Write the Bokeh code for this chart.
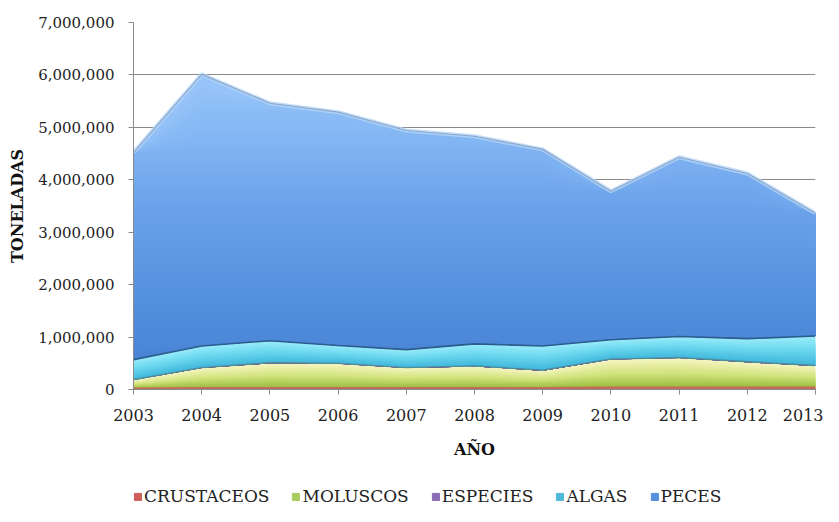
from bokeh.plotting import figure
from bokeh.models import NumeralTickFormatter, Legend, LegendItem, FixedTicker, Range1d
from bokeh.layouts import column
from bokeh.embed import file_html
from bokeh.resources import INLINE
import numpy as np

years = [2003, 2004, 2005, 2006, 2007, 2008, 2009, 2010, 2011, 2012, 2013]
crustaceos = [20000, 30000, 30000, 30000, 30000, 30000, 30000, 40000, 40000, 40000, 40000]
moluscos = [160000, 380000, 470000, 460000, 380000, 410000, 330000, 530000, 560000, 480000, 410000]
especies = [8000, 9000, 10000, 9000, 8000, 9000, 8000, 10000, 9000, 9000, 8000]
algas = [382000, 411000, 420000, 341000, 342000, 421000, 462000, 370000, 401000, 441000, 562000]
peces = [3950000, 5180000, 4530000, 4450000, 4180000, 3960000, 3750000, 2830000, 3420000, 3150000, 2340000]
series_names = ["CRUSTACEOS", "MOLUSCOS", "ESPECIES", "ALGAS", "PECES"]
y_ticks = [0, 1000000, 2000000, 3000000, 4000000, 5000000, 6000000, 7000000]

# relative (within-layer) gradient stops: bottom, middle, top
grad = {
    "CRUSTACEOS": ("#b85a4c", "#c8705e", "#d88a78"),
    "MOLUSCOS": ("#98bc3c", "#d2e47e", "#f6f5c2"),
    "ESPECIES": ("#6c5490", "#8064a2", "#9c86bc"),
    "ALGAS": ("#40b6da", "#68d6ee", "#9aecf9"),
}
# absolute vertical gradient for the top layer (value -> colour)
peces_stops = [(800000, "#4a85d7"), (2000000, "#5893e0"), (3500000, "#6aa2ea"),
               (4800000, "#82b5f3"), (6100000, "#9ac6f9")]
legend_colors = ["#cf5f5a", "#a9cc5e", "#8a6cb4", "#4fbad8", "#5590dc"]

FONT = "DejaVu Serif"


def hex2rgb(h):
    return np.array([int(h[i:i + 2], 16) for i in (1, 3, 5)], dtype=float)


def rgb2hex(c):
    return "#%02x%02x%02x" % tuple(int(round(v)) for v in c)


def mix(stops, t):
    a, b, c = (hex2rgb(s) for s in stops)
    if t < 0.5:
        col = a + (b - a) * (t / 0.5)
    else:
        col = b + (c - b) * ((t - 0.5) / 0.5)
    return rgb2hex(col)


def abs_color(v):
    vs = [s[0] for s in peces_stops]
    cols = np.array([hex2rgb(s[1]) for s in peces_stops])
    return rgb2hex([np.interp(v, vs, cols[:, i]) for i in range(3)])


p = figure(width=823, height=462, output_backend="svg", toolbar_location=None,
           x_range=Range1d(2003, 2013), y_range=Range1d(0, 7000000),
           min_border_left=133, min_border_right=8, min_border_top=22, min_border_bottom=73)
p.outline_line_color = None
p.background_fill_color = "white"

layers = [crustaceos, moluscos, especies, algas, peces]
lower = np.zeros(len(years))
for name, vals in zip(series_names, layers):
    upper = lower + np.array(vals, dtype=float)
    if name == "PECES":
        levels = np.linspace(upper.max(), lower.min(), 60)
        for h in levels:
            top_k = np.maximum(np.minimum(upper, h), lower)
            p.varea(x=years, y1=list(lower), y2=list(top_k), fill_color=abs_color(h))
    else:
        NB = 16
        for k in range(NB, 0, -1):
            t = (k - 0.5) / NB
            top_k = lower + (upper - lower) * k / NB
            p.varea(x=years, y1=list(lower), y2=list(top_k), fill_color=mix(grad[name], t))
    lower = upper

cum = np.cumsum(np.array(layers, dtype=float), axis=0)
p.line(years, list(cum[0]), line_color="#c46a5a", line_width=2)
p.line(years, list(cum[2]), line_color="#4f7f86", line_width=1.3, line_alpha=0.8)
p.line(years, list(cum[3]), line_color="#2c5d8e", line_width=1.6)
p.line(years, list(cum[4]), line_color="#b4d6fb", line_width=4, line_alpha=0.8)
p.line(years, list(cum[4]), line_color="#8ea8c6", line_width=1.2)

p.xaxis.ticker = FixedTicker(ticks=years)
p.yaxis.ticker = FixedTicker(ticks=y_ticks)
p.yaxis.formatter = NumeralTickFormatter(format="0,0")
p.xgrid.grid_line_color = None
p.ygrid.grid_line_color = "#8a8a8a"
p.ygrid.grid_line_width = 1

for ax in (p.xaxis, p.yaxis):
    ax.axis_line_color = "#8a8a8a"
    ax.major_tick_line_color = "#8a8a8a"
    ax.minor_tick_line_color = None
    ax.major_tick_in = 0
    ax.major_tick_out = 5
    ax.major_label_text_font = FONT
    ax.major_label_text_color = "#222222"
    ax.axis_label_text_font = FONT
    ax.axis_label_text_font_style = "bold"
    ax.axis_label_text_font_size = "16px"
    ax.axis_label_text_color = "#111111"

p.yaxis.major_label_text_font_size = "15px"
p.xaxis.major_label_text_font_size = "16px"
p.yaxis.major_label_standoff = 14
p.xaxis.major_label_standoff = 14
p.yaxis.axis_label = "TONELADAS"
p.xaxis.axis_label = "AÑO"
p.xaxis.axis_label_standoff = 16
p.yaxis.axis_label_standoff = 8

# legend figure
lg = figure(width=823, height=52, output_backend="svg", toolbar_location=None,
            x_range=Range1d(0, 1), y_range=Range1d(0, 1), min_border=0)
lg.axis.visible = False
lg.grid.visible = False
lg.outline_line_color = None
items = []
for n, c in zip(series_names, legend_colors):
    r = lg.rect(x=[-5], y=[-5], width=1, height=1, fill_color=c, line_color=c)
    items.append(LegendItem(label=n, renderers=[r]))
legend = Legend(items=items, orientation="horizontal", label_text_font=FONT,
                label_text_font_size="17px", label_text_color="#222222",
                glyph_width=9, glyph_height=9, spacing=22, label_standoff=2,
                border_line_color=None, background_fill_alpha=0,
                location=(0, 8), padding=0, margin=0)
lg.add_layout(legend, "center")

layout = column(p, lg, spacing=0)
open("out.html", "w").write(file_html(layout, INLINE))
